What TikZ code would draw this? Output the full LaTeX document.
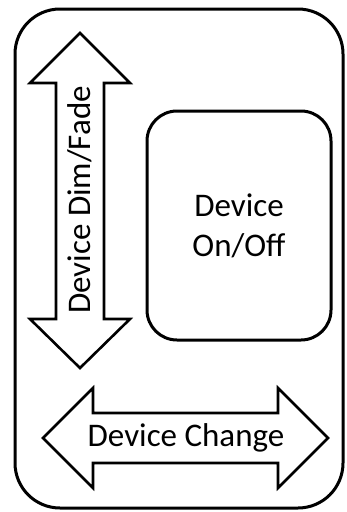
\documentclass[tikz,border=0pt]{standalone}
\usepackage{fontspec}
\setmainfont{Carlito}
\tikzset{
  frame/.style={draw=black, line width=3pt, rounded corners=45pt},
  panel/.style={draw=black, line width=3pt, rounded corners=30pt},
  arrowshape/.style={draw=black, line width=2.6pt, fill=white, line join=miter},
  label/.style={font=\fontsize{33}{40}\selectfont, align=center, inner sep=0pt}
}
\begin{document}
\begin{tikzpicture}[x=1pt, y=-1pt]
  \useasboundingbox (0,0) rectangle (347,512);
  % outer frame
  \draw[frame] (15,9) rectangle (343,508);
  % vertical double arrow
  \draw[arrowshape] (80,33) -- (130,83) -- (104,83) -- (104,319) -- (130,319)
    -- (80,368) -- (30,319) -- (56,319) -- (56,83) -- (30,83) -- cycle;
  \node[label, rotate=90] (dim) at (80,200) {Device Dim/Fade};
  % on/off panel
  \draw[panel] (147,111) rectangle (331,340);
  \node[label] (onoff) at (239,226) {Device\\On/Off};
  % horizontal double arrow
  \draw[arrowshape] (43,438) -- (93,388) -- (93,413) -- (278,413) -- (278,388)
    -- (328,438) -- (278,488) -- (278,463) -- (93,463) -- (93,488) -- cycle;
  \node[label] (change) at (186,438) {Device Change};
\end{tikzpicture}
\end{document}
